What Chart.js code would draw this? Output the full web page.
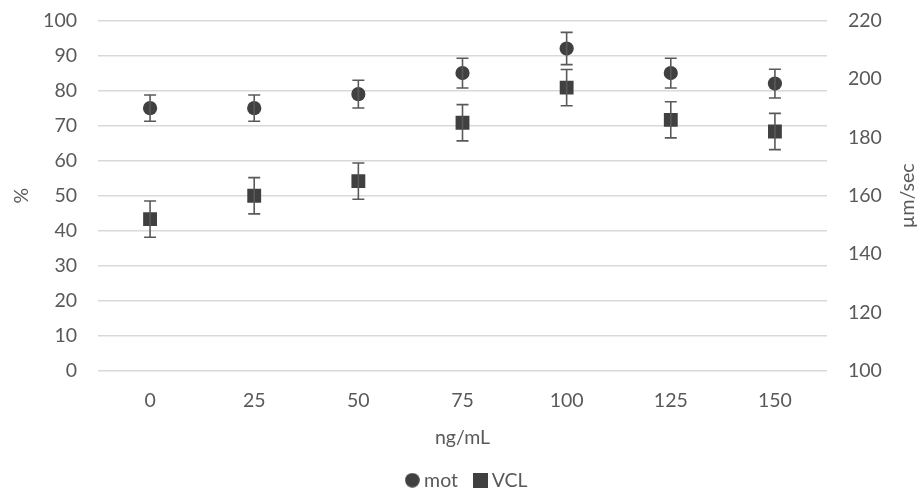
<!DOCTYPE html>
<html>
<head>
<meta charset="utf-8">
<script src="https://cdn.jsdelivr.net/npm/chart.js@4"></script>
<style>
html,body{margin:0;padding:0;background:#fff;}
#wrap{width:920px;height:490px;position:relative;}
</style>
</head>
<body>
<div id="wrap"><canvas id="c"></canvas></div>
<script>
const categories = ["0", "25", "50", "75", "100", "125", "150"];
const motValues = [75, 75, 79, 85, 92, 85, 82];
const motErrors = [3.75, 3.75, 3.95, 4.25, 4.6, 4.25, 4.1];
const vclValues = [152, 160, 165, 185, 197, 186, 182];
const vclErrors = [6.2, 6.2, 6.2, 6.2, 6.2, 6.2, 6.2];
const leftTicks = [0, 100, 10];
const rightTicks = [100, 220, 20];
const xTitle = "ng/mL";
const leftTitle = "%";
const rightTitle = "µm/sec";

const FONT = "Lato, 'Open Sans', sans-serif";
const FS = 19.5;
const TXT = "#595959";
const MARK = "#404040";

function legendIcon(shape) {
  const c = document.createElement("canvas");
  c.width = 15; c.height = 15;
  const g = c.getContext("2d");
  g.fillStyle = MARK;
  if (shape === "circle") { g.beginPath(); g.arc(7.5, 7.5, 7.3, 0, Math.PI * 2); g.fill(); }
  else { g.fillRect(0, 0, 15, 15); }
  return c;
}
const icons = [legendIcon("circle"), legendIcon("rect")];

const errorBarPlugin = {
  id: "errorBars",
  afterDatasetsDraw(chart) {
    const ctx = chart.ctx;
    chart.data.datasets.forEach((ds, i) => {
      const meta = chart.getDatasetMeta(i);
      const ys = chart.scales[ds.yAxisID];
      ctx.save();
      ctx.strokeStyle = "#595959";
      ctx.lineWidth = 1.6;
      meta.data.forEach((pt, j) => {
        const v = ds.data[j], e = ds.errors[j];
        const x = pt.x;
        const yt = ys.getPixelForValue(v + e);
        const yb = ys.getPixelForValue(v - e);
        ctx.beginPath();
        ctx.moveTo(x, yt); ctx.lineTo(x, yb);
        ctx.moveTo(x - 6, yt); ctx.lineTo(x + 6, yt);
        ctx.moveTo(x - 6, yb); ctx.lineTo(x + 6, yb);
        ctx.stroke();
      });
      ctx.restore();
    });
  }
};

const rightTitlePlugin = {
  id: "rightTitle",
  afterDraw(chart) {
    const ctx = chart.ctx, a = chart.chartArea;
    ctx.save();
    ctx.translate(908, (a.top + a.bottom) / 2);
    ctx.rotate(-Math.PI / 2);
    ctx.fillStyle = TXT;
    ctx.font = FS + "px " + FONT;
    ctx.textAlign = "center";
    ctx.textBaseline = "middle";
    ctx.fillText(rightTitle, 0, 0);
    ctx.restore();
  }
};

function fixY(width) {
  return function (s) { s.width = width; s.paddingTop = 0; s.paddingBottom = 0; };
}

new Chart(document.getElementById("c"), {
  type: "line",
  data: {
    labels: categories,
    datasets: [
      {
        label: "mot", data: motValues, errors: motErrors, yAxisID: "y",
        showLine: false, pointStyle: "circle", pointRadius: 7.1, pointHoverRadius: 7.1,
        backgroundColor: MARK, borderColor: MARK, borderWidth: 0
      },
      {
        label: "VCL", data: vclValues, errors: vclErrors, yAxisID: "y1",
        showLine: false, pointStyle: "rect", pointRadius: 9.8, pointHoverRadius: 9.8,
        backgroundColor: MARK, borderColor: MARK, borderWidth: 0
      }
    ]
  },
  plugins: [errorBarPlugin, rightTitlePlugin],
  options: {
    responsive: true,
    maintainAspectRatio: false,
    animation: false,
    layout: { padding: { top: 20.5, right: -9, left: 9, bottom: -10 } },
    plugins: {
      tooltip: { enabled: false },
      legend: {
        position: "bottom",
        labels: {
          usePointStyle: true, pointStyleWidth: 4, boxHeight: 15, padding: 20,
          color: TXT, font: { family: FONT, size: FS },
          generateLabels(chart) {
            return chart.data.datasets.map((ds, i) => ({
              text: ds.label, pointStyle: icons[i], fillStyle: MARK, strokeStyle: MARK,
              lineWidth: 0, hidden: false, datasetIndex: i, fontColor: TXT
            }));
          }
        }
      }
    },
    scales: {
      x: {
        offset: true,
        afterFit(s) { s.height = 79.5; },
        grid: { display: false, drawTicks: false },
        border: { display: false },
        ticks: { color: TXT, font: { family: FONT, size: FS }, padding: 18 },
        title: { display: true, text: xTitle, color: TXT, font: { family: FONT, size: FS }, padding: { top: 14, bottom: 1.3 } }
      },
      y: {
        position: "left",
        min: leftTicks[0], max: leftTicks[1],
        afterFit: fixY(89),
        ticks: { stepSize: leftTicks[2], color: TXT, font: { family: FONT, size: FS }, padding: 21 },
        grid: { color: "#d9d9d9", lineWidth: 1.5, drawTicks: false },
        border: { display: false },
        title: { display: true, text: leftTitle, color: TXT, font: { family: FONT, size: FS }, padding: { top: 1, bottom: 0 } }
      },
      y1: {
        position: "right",
        min: rightTicks[0], max: rightTicks[1],
        afterFit: fixY(102),
        ticks: { stepSize: rightTicks[2], color: TXT, font: { family: FONT, size: FS }, padding: 21 },
        grid: { display: false, drawTicks: false },
        border: { display: false },
        title: { display: false }
      }
    }
  }
});
</script>
</body>
</html>
